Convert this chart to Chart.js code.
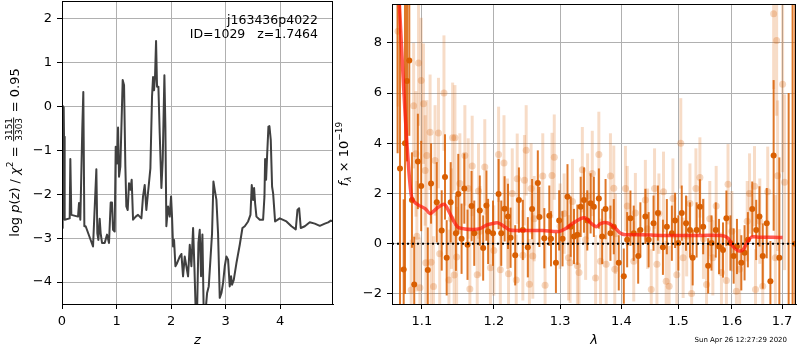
<!DOCTYPE html>
<html lang="en">
<head>
<meta charset="utf-8" />
<title>j163436p4022 - redshift fit</title>
<script src="https://cdn.jsdelivr.net/npm/chart.js"></script>
<style>
  body { margin: 0; background: #ffffff; }
  .painel { position: absolute; top: 0; }
</style>
</head>
<body>
  <canvas id="grafico_pz" class="painel" width="340" height="350" style="left:0px"></canvas>
  <canvas id="grafico_espectro" class="painel" width="465" height="350" style="left:335px"></canvas>
<script>
// log p(z) curve
const zGrid = [
  0.000, 0.012, 0.031, 0.037, 0.049, 0.141, 0.153, 0.171, 0.294, 0.312,
  0.336, 0.373, 0.391, 0.410, 0.434, 0.569, 0.630, 0.648, 0.667, 0.691,
  0.709, 0.734, 0.783, 0.826, 0.862, 0.893, 0.917, 0.936, 0.966, 0.985,
  1.009, 1.028, 1.046, 1.070, 1.113, 1.138, 1.162, 1.180, 1.205, 1.229,
  1.254, 1.278, 1.303, 1.352, 1.394, 1.425, 1.456, 1.486, 1.517, 1.547,
  1.621, 1.651, 1.670, 1.688, 1.706, 1.725, 1.743, 1.768, 1.792, 1.823,
  1.847, 1.878, 1.896, 1.914, 1.945, 1.976, 2.000, 2.018, 2.037, 2.055,
  2.080, 2.110, 2.159, 2.190, 2.220, 2.251, 2.281, 2.312, 2.343, 2.373,
  2.404, 2.428, 2.453, 2.477, 2.502, 2.526, 2.550, 2.575, 2.599, 2.630,
  2.661, 2.691, 2.722, 2.752, 2.777, 2.801, 2.832, 2.862, 2.893, 2.924,
  2.954, 2.985, 3.015, 3.046, 3.076, 3.101, 3.119, 3.150, 3.199, 3.260,
  3.309, 3.352, 3.413, 3.456, 3.480, 3.505, 3.523, 3.541, 3.566, 3.627,
  3.688, 3.713, 3.725, 3.743, 3.761, 3.786, 3.804, 3.829, 3.853, 3.872,
  3.908, 3.994, 4.116, 4.208, 4.287, 4.318, 4.349, 4.379, 4.453, 4.544,
  4.636, 4.728, 4.820, 4.881, 4.930, 4.972
];
const logPz = [
  -2.77, 0.01, -0.02, -0.69, -2.58, -2.55, -1.20, -2.47, -2.51, -2.20,
  -2.58, -0.46, 0.33, -2.73, -2.73, -3.19, -1.43, -2.89, -3.04, -2.56,
  -2.89, -3.11, -3.11, -2.92, -3.11, -2.19, -2.19, -2.81, -2.85, -0.92,
  -1.30, -0.48, -1.60, -1.37, 0.60, 0.48, -1.37, -2.28, -2.36, -1.75,
  -1.90, -1.67, -2.58, -2.51, -2.47, -2.51, -2.55, -2.05, -1.79, -2.36,
  -1.41, 0.22, 0.67, 0.37, 0.67, 1.49, 0.45, 0.45, -0.61, -1.86,
  -1.22, 0.71, -0.46, -2.73, -2.28, -2.51, -2.05, -2.51, -3.19, -3.04,
  -3.64, -3.57, -3.42, -3.36, -3.87, -3.42, -3.64, -3.87, -3.15, -3.64,
  -2.77, -3.64, -4.70, -4.70, -3.11, -2.81, -3.87, -2.92, -4.70, -4.70,
  -4.25, -4.10, -3.49, -2.89, -1.71, -1.90, -2.13, -2.89, -4.36, -4.25,
  -4.02, -3.64, -3.42, -3.49, -4.10, -3.87, -4.06, -3.95, -3.57, -3.15,
  -2.77, -2.73, -2.62, -2.47, -1.79, -2.13, -1.86, -2.20, -2.51, -2.58,
  -2.58, -2.05, -1.20, -1.67, -1.14, -0.46, -0.45, -0.77, -1.83, -1.98,
  -2.62, -2.55, -2.62, -2.73, -2.80, -2.36, -2.32, -2.77, -2.73, -2.64,
  -2.67, -2.72, -2.67, -2.64, -2.60, -2.62
];
const zTicks = [0, 1, 2, 3, 4];
const logPzTicks = [-4, -3, -2, -1, 0, 1, 2];

// spectrum: strong points (darker) with errors
const darkLam = [
  1.0682, 1.0713, 1.0761, 1.0778, 1.0804, 1.0834, 1.0869, 1.0899, 1.0947, 1.0991,
  1.1079, 1.1123, 1.1200, 1.1267, 1.1312, 1.1335, 1.1390, 1.1462, 1.1495, 1.1541,
  1.1579, 1.1624, 1.1681, 1.1719, 1.1798, 1.1846, 1.1893, 1.1917, 1.1988, 1.2069,
  1.2108, 1.2157, 1.2207, 1.2245, 1.2314, 1.2369, 1.2428, 1.2503, 1.2568, 1.2655,
  1.2679, 1.2755, 1.2832, 1.2858, 1.2935, 1.2986, 1.3039, 1.3117, 1.3169, 1.3221,
  1.3275, 1.3328, 1.3381, 1.3435, 1.3489, 1.3542, 1.3624, 1.3679, 1.3735, 1.3816,
  1.3872, 1.3956, 1.4041, 1.4098, 1.4154, 1.4211, 1.4287, 1.4325, 1.4412, 1.4469,
  1.4555, 1.4632, 1.4721, 1.4791, 1.4881, 1.4939, 1.4998, 1.5060, 1.5138, 1.5210,
  1.5260, 1.5333, 1.5394, 1.5455, 1.5548, 1.5611, 1.5692, 1.5754, 1.5830, 1.5895,
  1.5972, 1.6035, 1.6099, 1.6184, 1.6248, 1.6313, 1.6399, 1.6478, 1.6543, 1.6609,
  1.6689, 1.6763, 1.6829, 1.6945, 1.7137, 1.7219, 1.7275
];
const darkFlux = [
  12.0, 3.0, -1.03, 4.0, 6.48, 7.3, 1.74, -1.62, 3.28, 2.3,
  -1.05, 2.4, 1.65, 0.53, 2.66, -0.56, 1.65, 0.42, 1.98, 0.2,
  2.2, -0.04, 1.5, 0.42, 1.32, -0.17, 1.52, 0.49, 0.42, 1.98,
  0.42, 1.39, 1.09, 0.24, -0.46, 1.74, 0.55, -0.14, 1.38, 2.42,
  1.07, 0.22, 1.12, 0.2, -0.76, 0.93, 0.2, 1.87, 0.68, 0.29,
  0.36, 1.47, 1.74, 0.93, 1.61, 1.47, 1.8, 0.29, 1.38, 0.42,
  0.68, -0.76, -1.29, 0.16, 1.02, 0.42, -0.49, 0.55, 1.09, 0.16,
  0.82, 1.22, -0.14, 0.68, 0.42, 0.93, 0.03, 1.22, 0.82, 0.55,
  -0.56, 0.55, 1.47, 0.68, -0.88, 0.03, 0.55, -0.11, -0.25, 1.02,
  0.03, -0.49, -0.11, -0.76, -0.36, 0.16, 1.38, 0.55, 1.09, -0.49,
  0.82, -1.49, 3.52, -0.56, -5.0, -3.0, 0.0
];
const darkErr = [
  8.4, 7.0, 2.8, 6.0, 3.2, 3.0, 1.9, 1.9, 1.9, 1.8,
  1.7, 1.6, 1.6, 1.6, 1.7, 1.5, 1.6, 1.5, 1.6, 1.4,
  1.4, 1.4, 1.4, 1.3, 1.4, 1.3, 1.4, 1.3, 1.3, 1.4,
  1.3, 1.3, 1.3, 1.2, 1.2, 1.3, 1.2, 1.2, 1.2, 1.3,
  1.2, 1.2, 1.2, 1.1, 1.2, 1.2, 1.1, 1.3, 1.2, 1.1,
  1.2, 1.2, 1.3, 1.2, 1.2, 1.2, 1.2, 1.1, 1.2, 1.1,
  1.1, 1.1, 1.1, 1.1, 1.1, 1.1, 1.1, 1.1, 1.1, 1.1,
  1.1, 1.1, 1.1, 1.1, 1.1, 1.1, 1.1, 1.1, 1.1, 1.1,
  1.1, 1.1, 1.1, 1.1, 1.1, 1.1, 1.1, 1.1, 1.1, 1.1,
  1.1, 1.1, 1.1, 1.1, 1.1, 1.1, 1.1, 1.2, 1.2, 1.3,
  1.4, 1.6, 3.0, 4.0, 11.0, 20.0, 20.0
];

// spectrum: faint points (light) with errors
const lightLam = [
  1.0688, 1.0859, 1.0891, 1.0921, 1.0934, 1.0956, 1.0974, 1.0991, 1.1022, 1.1044,
  1.1053, 1.1066, 1.1110, 1.1123, 1.1156, 1.1177, 1.1223, 1.1240, 1.1298, 1.1366,
  1.1400, 1.1417, 1.1438, 1.1449, 1.1472, 1.1517, 1.1587, 1.1634, 1.1657, 1.1690,
  1.1761, 1.1779, 1.1800, 1.1869, 1.1950, 1.2000, 1.2069, 1.2094, 1.2148, 1.2200,
  1.2215, 1.2270, 1.2329, 1.2344, 1.2428, 1.2452, 1.2478, 1.2527, 1.2553, 1.2578,
  1.2600, 1.2731, 1.2767, 1.2874, 1.2909, 1.3000, 1.3064, 1.3133, 1.3158, 1.3196,
  1.3275, 1.3301, 1.3355, 1.3408, 1.3440, 1.3516, 1.3570, 1.3624, 1.3651, 1.3745,
  1.3816, 1.3872, 1.3889, 1.3900, 1.4069, 1.4100, 1.4211, 1.4239, 1.4412, 1.4450,
  1.4515, 1.4573, 1.4615, 1.4650, 1.4731, 1.4779, 1.4832, 1.4900, 1.4970, 1.5042,
  1.5085, 1.5150, 1.5210, 1.5241, 1.5320, 1.5394, 1.5460, 1.5518, 1.5579, 1.5637,
  1.5700, 1.5800, 1.5895, 1.5926, 1.6000, 1.6088, 1.6151, 1.6300, 1.6346, 1.6444,
  1.6464, 1.6550, 1.6609, 1.6709, 1.6829, 1.6865, 1.6890, 1.6910, 1.7012, 1.7053
];
const lightFlux = [
  8.46, -1.84, 5.5, 3.58, 0.3, 7.2, -1.75, 6.5, 5.58, 2.92,
  -0.76, 3.52, 4.44, -0.74, -1.7, 3.32, 4.41, -0.4, 6.0, -1.44,
  1.0, 4.22, -1.24, 4.22, -0.53, 2.4, 3.52, 2.2, -1.8, 3.1,
  -1.23, 2.1, 0.5, 3.06, -0.96, -0.27, 3.56, -1.04, 3.22, 0.8,
  -1.2, 2.0, -1.44, 2.59, -0.46, 2.53, 3.72, -1.61, 2.2, -0.49,
  1.0, 2.7, -1.65, 2.72, 3.45, 0.7, 1.2, -0.56, -0.76, 1.68,
  -0.88, -1.15, 2.95, 0.16, 1.9, 2.8, -1.36, 3.56, -0.7, -0.82,
  2.7, 2.21, -1.02, 0.4, 2.2, 1.5, -0.7, 1.22, 1.74, 0.6,
  -1.82, 2.2, -0.82, 1.2, 2.07, -1.49, -1.69, 1.8, -1.23, 4.0,
  -0.56, 0.3, 1.6, -1.98, 2.2, 2.64, 0.2, -1.62, 1.0, -0.56,
  1.5, -1.15, -1.46, 2.37, 0.5, -1.89, -1.02, 0.9, 2.0, 2.29,
  -1.82, 0.9, -1.69, 2.07, 9.16, -0.56, 8.1, 2.71, 6.35, 2.45
];
const lightErr = [
  3.0, 2.0, 2.5, 2.5, 2.2, 2.5, 2.0, 2.5, 2.4, 2.2,
  2.0, 2.2, 2.3, 2.0, 2.0, 2.2, 2.2, 2.0, 2.3, 2.0,
  2.0, 2.2, 2.0, 2.1, 2.0, 2.0, 2.0, 2.0, 1.9, 2.0,
  1.8, 1.9, 1.8, 1.9, 1.8, 1.8, 1.9, 1.8, 1.9, 1.8,
  1.8, 1.8, 1.8, 1.8, 1.8, 1.8, 1.8, 1.8, 1.8, 1.7,
  1.7, 1.7, 1.7, 1.7, 1.7, 1.7, 1.6, 1.7, 1.6, 1.7,
  1.7, 1.7, 1.7, 1.6, 1.7, 1.7, 1.7, 1.7, 1.7, 1.7,
  1.7, 1.7, 1.6, 1.6, 1.7, 1.6, 1.6, 1.6, 1.6, 1.6,
  1.6, 1.6, 1.6, 1.6, 1.6, 1.6, 1.6, 1.6, 1.6, 1.8,
  1.6, 1.6, 1.6, 1.6, 1.6, 1.6, 1.6, 1.6, 1.5, 1.5,
  1.6, 1.6, 1.6, 1.6, 1.6, 1.6, 1.6, 1.6, 1.6, 1.6,
  1.6, 1.7, 1.7, 1.8, 3.0, 2.5, 3.0, 3.0, 3.5, 3.5
];

// best-fit template
const modelLam = [
  1.0660, 1.0704, 1.0761, 1.0804, 1.0847, 1.0878, 1.0956, 1.1044, 1.1110, 1.1169,
  1.1223, 1.1304, 1.1358, 1.1427, 1.1495, 1.1587, 1.1705, 1.1798, 1.1893, 1.1965,
  1.2061, 1.2157, 1.2230, 1.2354, 1.2478, 1.2731, 1.2986, 1.3092, 1.3196, 1.3328,
  1.3398, 1.3489, 1.3583, 1.3651, 1.3735, 1.3816, 1.3904, 1.3985, 1.4069, 1.4353,
  1.4690, 1.5271, 1.5830, 1.5926, 1.6022, 1.6118, 1.6214, 1.6293, 1.6379, 1.6543,
  1.6809, 1.7012
];
const modelFlux = [
  12.5, 9.6, 6.2, 3.97, 2.26, 1.74, 1.54, 1.40, 1.20, 1.33,
  1.46, 1.57, 1.33, 0.93, 0.65, 0.59, 0.57, 0.60, 0.74, 0.80,
  0.83, 0.68, 0.55, 0.53, 0.53, 0.53, 0.49, 0.61, 0.80, 1.00,
  1.03, 0.83, 0.68, 0.80, 0.85, 0.78, 0.61, 0.42, 0.36, 0.36,
  0.33, 0.33, 0.32, 0.22, -0.11, -0.27, -0.25, 0.03, 0.26, 0.26,
  0.26, 0.25
];
const lamTicks = [1.1, 1.2, 1.3, 1.4, 1.5, 1.6, 1.7];
const fluxTicks = [-2, 0, 2, 4, 6, 8];
const lamRange = [1.061, 1.729];

const FONT = "'DejaVu Sans', sans-serif";
Chart.defaults.font.family = FONT;
Chart.defaults.font.size = 13;
Chart.defaults.color = '#000000';

const pontos = (xs, ys) => xs.map((x, i) => ({ x: x, y: ys[i] }));
const menos = (v) => (v < 0 ? '\u2212' + Math.abs(v) : String(v));

// fixed axis sizes, no extra room for the end labels
function tamanhoFixo(tam) {
  return (s) => {
    if (s.isHorizontal()) { s.height = tam; s.paddingLeft = 0; s.paddingRight = 0; }
    else { s.width = tam; s.paddingTop = 0; s.paddingBottom = 0; }
  };
}

function eixo(ticks, extra) {
  return Object.assign({
    afterBuildTicks: (axis) => { axis.ticks = ticks.map((v) => ({ value: v })); },
    ticks: { color: '#000', padding: 5, maxRotation: 0, autoSkip: false, callback: menos },
    grid: { color: '#b0b0b0', lineWidth: 1, tickLength: 5, tickColor: '#000', tickWidth: 1 },
    border: { color: '#000', width: 1 }
  }, extra);
}

// black box round the plot area
const moldura = {
  id: 'moldura',
  afterDraw(chart) {
    const { ctx, chartArea: a } = chart;
    ctx.save();
    ctx.strokeStyle = '#000';
    ctx.lineWidth = 1;
    ctx.strokeRect(Math.round(a.left) + 0.5, Math.round(a.top) + 0.5,
      Math.round(a.right - a.left) - 1, Math.round(a.bottom - a.top));
    ctx.restore();
  }
};

// vertical error bars, drawn just before each dataset's markers
const barrasErro = {
  id: 'barrasErro',
  beforeDatasetDraw(chart, args) {
    const ds = chart.data.datasets[args.index];
    if (!ds.erros) return;
    const { ctx, chartArea: a, scales } = chart;
    ctx.save();
    ctx.beginPath();
    ctx.rect(a.left, a.top, a.right - a.left, a.bottom - a.top);
    ctx.clip();
    ctx.strokeStyle = ds.corErro;
    ctx.lineWidth = ds.larguraErro;
    ds.data.forEach((p, i) => {
      const px = scales.x.getPixelForValue(p.x);
      ctx.beginPath();
      ctx.moveTo(px, scales.y.getPixelForValue(p.y - ds.erros[i]));
      ctx.lineTo(px, scales.y.getPixelForValue(p.y + ds.erros[i]));
      ctx.stroke();
    });
    ctx.restore();
  }
};

// text runs along a baseline; a run with num/den is a stacked fraction
function larguraRun(ctx, r) {
  ctx.font = r.font;
  if (r.num) return Math.max(ctx.measureText(r.num).width, ctx.measureText(r.den).width) + 3;
  return ctx.measureText(r.text).width;
}
function textoRico(ctx, runs, cy, baseX) {
  ctx.save();
  ctx.translate(baseX, cy);
  ctx.rotate(-Math.PI / 2);
  const total = runs.reduce((s, r) => s + larguraRun(ctx, r), 0);
  let x = -total / 2;
  ctx.fillStyle = '#000';
  ctx.textBaseline = 'alphabetic';
  runs.forEach((r) => {
    const w = larguraRun(ctx, r);
    ctx.font = r.font;
    if (r.num) {
      ctx.textAlign = 'center';
      ctx.fillText(r.num, x + w / 2, -6.5);
      ctx.fillText(r.den, x + w / 2, 3);
      ctx.fillRect(x + 1, -5.3, w - 2, 0.9);
      ctx.textAlign = 'left';
    } else {
      ctx.textAlign = 'left';
      ctx.fillText(r.text, x, r.dy || 0);
    }
    x += w;
  });
  ctx.restore();
}

const normal = '13px ' + FONT;
const italico = 'italic 13px ' + FONT;
const pequeno = '9px ' + FONT;
const pequenoItal = 'italic 9px ' + FONT;

const textosPz = {
  id: 'textosPz',
  afterDraw(chart) {
    const { ctx, chartArea: a } = chart;
    ctx.save();
    ctx.fillStyle = '#000';
    ctx.font = '12.5px ' + FONT;
    ctx.textAlign = 'right';
    ctx.fillText('j163436p4022', a.right - 15, 24);
    ctx.fillText('ID=1029   z=1.7464', a.right - 15, 38);
    ctx.font = italico;
    ctx.textAlign = 'center';
    ctx.fillText('z', (a.left + a.right) / 2, 344);
    ctx.restore();
    textoRico(ctx, [
      { text: 'log ', font: normal },
      { text: 'p', font: italico },
      { text: '(', font: normal },
      { text: 'z', font: italico },
      { text: ') / ', font: normal },
      { text: '\u03c7', font: italico },
      { text: '2', font: pequeno, dy: -6 },
      { text: ' = ', font: normal },
      { num: '3151', den: '3303', font: pequeno },
      { text: ' = 0.95', font: normal }
    ], (a.top + a.bottom) / 2, 18.5);
  }
};

const textosEspectro = {
  id: 'textosEspectro',
  afterDraw(chart) {
    const { ctx, chartArea: a } = chart;
    ctx.save();
    ctx.fillStyle = '#000';
    ctx.font = italico;
    ctx.textAlign = 'center';
    ctx.fillText('\u03bb', (a.left + a.right) / 2, 344);
    ctx.font = '7px ' + FONT;
    ctx.textAlign = 'right';
    ctx.fillText('Sun Apr 26 12:27:29 2020', a.right - 9, 342);
    ctx.restore();
    textoRico(ctx, [
      { text: 'f', font: italico },
      { text: '\u03bb', font: pequenoItal, dy: 3 },
      { text: ' \u00d7 10', font: normal },
      { text: '\u221219', font: pequeno, dy: -6 }
    ], (a.top + a.bottom) / 2, 13);
  }
};

// left panel: redshift probability
new Chart(document.getElementById('grafico_pz'), {
  type: 'scatter',
  data: {
    datasets: [{
      data: pontos(zGrid, logPz),
      showLine: true,
      borderColor: '#404040',
      borderWidth: 2,
      borderJoinStyle: 'round',
      pointRadius: 0
    }]
  },
  options: {
    responsive: false,
    animation: false,
    layout: { padding: { left: 0, right: 7, top: 1, bottom: 0 } },
    plugins: { legend: { display: false }, tooltip: { enabled: false } },
    scales: {
      x: eixo(zTicks, { type: 'linear', min: 0, max: 4.97, afterFit: tamanhoFixo(46) }),
      y: eixo(logPzTicks, { min: -4.5, max: 2.4, afterFit: tamanhoFixo(62) })
    }
  },
  plugins: [moldura, textosPz]
});

// right panel: spectrum with best-fit template
new Chart(document.getElementById('grafico_espectro'), {
  type: 'scatter',
  data: {
    datasets: [
      {
        data: [{ x: lamRange[0], y: 0 }, { x: lamRange[1], y: 0 }],
        showLine: true,
        borderColor: '#000',
        borderWidth: 2,
        borderDash: [2, 3],
        pointRadius: 0,
        order: 0
      },
      {
        data: pontos(modelLam, modelFlux),
        showLine: true,
        borderColor: 'rgba(255, 20, 10, 0.7)',
        borderWidth: 3.5,
        tension: 0.3,
        pointRadius: 0,
        order: 1
      },
      {
        data: pontos(darkLam, darkFlux),
        erros: darkErr,
        corErro: 'rgba(217, 95, 2, 0.85)',
        larguraErro: 2,
        backgroundColor: 'rgb(217, 95, 2)',
        pointRadius: 3,
        pointBorderWidth: 0,
        order: 2
      },
      {
        data: pontos(lightLam, lightFlux),
        erros: lightErr,
        corErro: 'rgba(217, 95, 2, 0.22)',
        larguraErro: 3,
        backgroundColor: 'rgba(217, 95, 2, 0.25)',
        pointRadius: 3.5,
        pointBorderWidth: 0,
        order: 3
      }
    ]
  },
  options: {
    responsive: false,
    animation: false,
    layout: { padding: { left: 0, right: 1, top: 1, bottom: 0 } },
    plugins: { legend: { display: false }, tooltip: { enabled: false } },
    scales: {
      x: eixo(lamTicks, {
        type: 'logarithmic', min: lamRange[0], max: lamRange[1],
        afterFit: tamanhoFixo(46)
      }),
      y: eixo(fluxTicks, { min: -2.4, max: 9.55, afterFit: tamanhoFixo(57) })
    }
  },
  plugins: [moldura, barrasErro, textosEspectro]
});
// x tick labels on the log axis need one decimal
Chart.getChart('grafico_espectro').options.scales.x.ticks.callback = (v) => v.toFixed(1);
Chart.getChart('grafico_espectro').update();
</script>
</body>
</html>
